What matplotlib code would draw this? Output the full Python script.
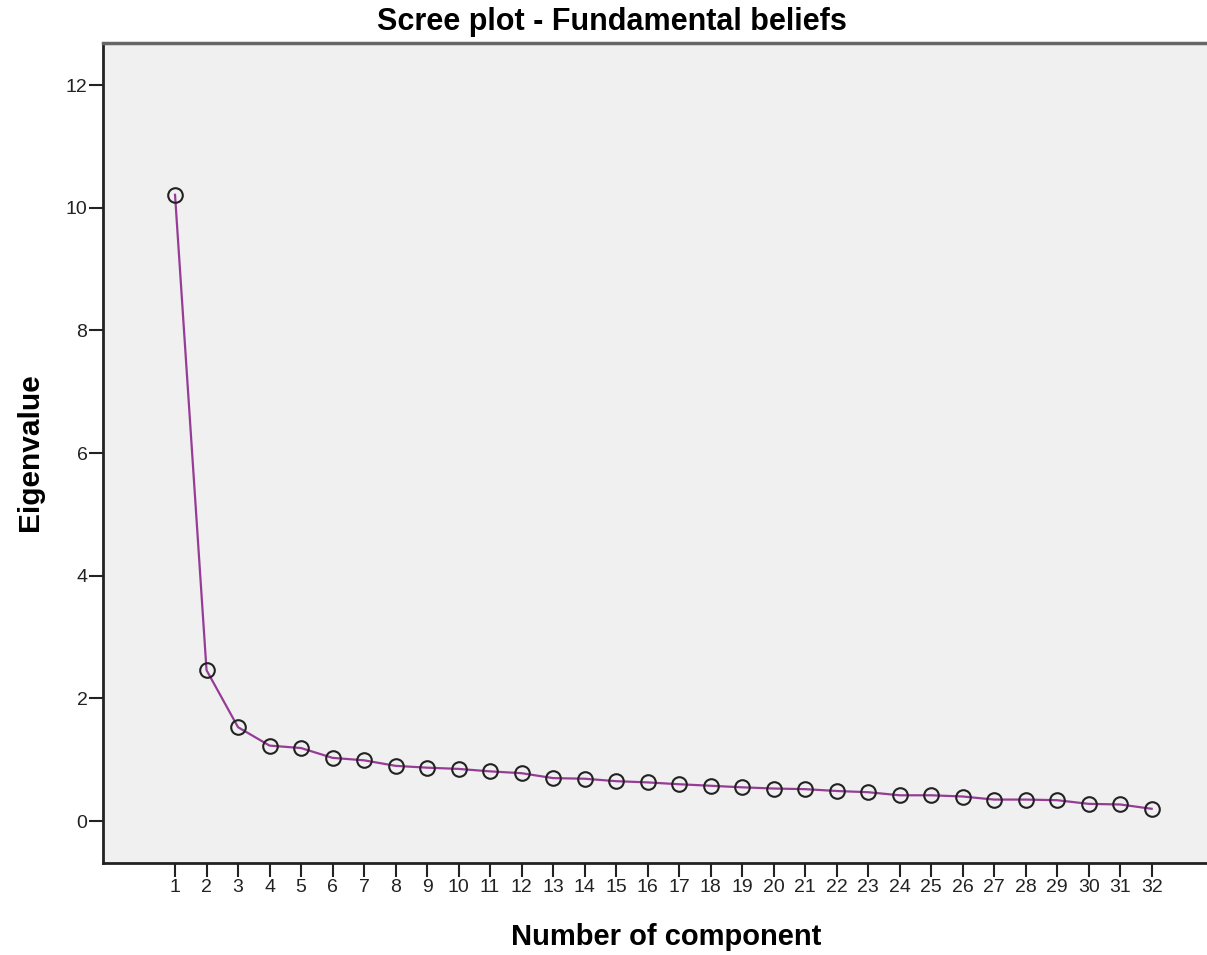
import matplotlib.pyplot as plt

# eigenvalues
components = list(range(1, 33))
eigenvalues = [10.21, 2.46, 1.53, 1.23, 1.19, 1.03, 0.99, 0.90, 0.87, 0.85,
               0.81, 0.78, 0.70, 0.69, 0.65, 0.63, 0.60, 0.575, 0.55, 0.53,
               0.52, 0.49, 0.47, 0.42, 0.42, 0.40, 0.35, 0.35, 0.34, 0.28,
               0.27, 0.20]
y_ticks = [0, 2, 4, 6, 8, 10, 12]

plt.rcParams['font.family'] = ['Liberation Sans', 'DejaVu Sans']

fig = plt.figure(figsize=(12.07, 9.55), dpi=100)
ax = fig.add_axes([0.0851, 0.0966, 0.9215, 0.8587])
ax.set_facecolor('#f0f0f0')

ax.plot(components, eigenvalues, color='#963c96', linewidth=1.6, zorder=2)
ax.plot(components, eigenvalues, linestyle='none', marker='o', markersize=10.5,
        markerfacecolor='none', markeredgecolor='#222222', markeredgewidth=1.5, zorder=3)

ax.set_xlim(-1.295, 34.01)
ax.set_ylim(-0.68, 12.69)
ax.set_xticks(components)
ax.set_yticks(y_ticks)
ax.tick_params(axis='both', direction='out', length=10, width=1.5, labelsize=14, colors='#222222')
ax.tick_params(axis='y', pad=1)
ax.tick_params(axis='x', pad=2)

for s in ['left', 'bottom']:
    ax.spines[s].set_linewidth(2)
    ax.spines[s].set_color('#222222')
ax.spines['top'].set_linewidth(2.5)
ax.spines['top'].set_color('#666666')
ax.spines['right'].set_visible(False)

fig.text(0.507, 0.977, 'Scree plot - Fundamental beliefs', ha='center', va='center',
         fontsize=22, fontweight='bold')
fig.text(0.552, 0.019, 'Number of component', ha='center', va='center',
         fontsize=21, fontweight='bold')
fig.text(0.025, 0.527, 'Eigenvalue', ha='center', va='center', rotation=90,
         fontsize=21.5, fontweight='bold')

fig.savefig('out.png', dpi=100)
